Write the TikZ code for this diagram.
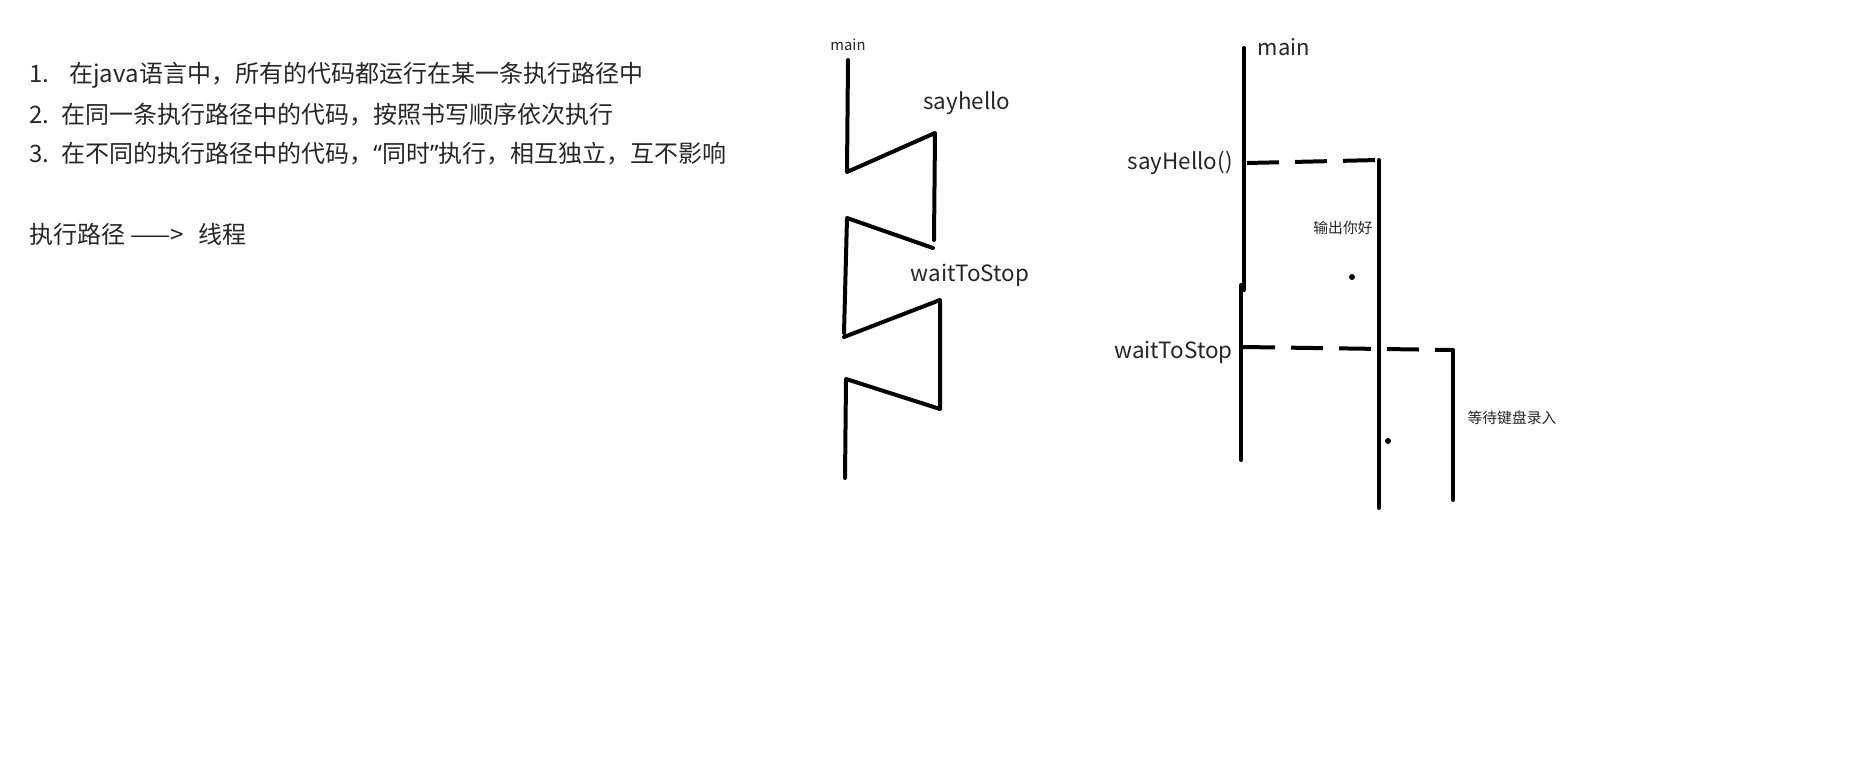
\documentclass[tikz,border=0pt]{standalone}
\usepackage{fontspec}
\setmainfont{Noto Sans CJK SC}
\newfontfamily\quotefont{Noto Sans}
\usetikzlibrary{positioning}

\begin{document}
\begin{tikzpicture}[x=0.5pt,y=-0.5pt,
		thread/.style={line width=2pt,line cap=round,line join=round},
		call/.style={line width=2pt,dash pattern=on 16pt off 8pt},
		note/.style={inner sep=0pt,anchor=west,text=black!85,font=\fontsize{12}{15}\selectfont},
		tag/.style={inner sep=0pt,text=black!85,font=\fontsize{11.2}{13}\selectfont},
		mini/.style={inner sep=0pt,text=black!85,font=\fontsize{7.4}{9}\selectfont}]
	\useasboundingbox (0,0) rectangle (1854,771);
	%
	\node[note] (item1) at (29,75) {1.\hspace{10pt}在java语言中，所有的代码都运行在某一条执行路径中};
	\node[note] (item2) at (29,115) {2.\hspace{6pt}在同一条执行路径中的代码，按照书写顺序依次执行};
	\node[note] (item3) at (29,154) {3.\hspace{6pt}在不同的执行路径中的代码，{\quotefont “}同时{\quotefont ”}执行，相互独立，互不影响};
	\node[note] (thread) at (29,234) {执行路径 ——>\hspace{7pt}线程};
	%
	\node[mini] (mainA) at (848,45) {main};
	\node[tag] (helloA) at (967,103) {sayhello};
	\node[tag] (waitA) at (970,275) {waitToStop};
	\coordinate (a0) at (848,60);
	\coordinate (a1) at (847,172);
	\coordinate (a2) at (935,133);
	\coordinate (a3) at (934,240);
	\coordinate (b0) at (933,248);
	\coordinate (b1) at (847,218);
	\coordinate (b2) at (844,333);
	\coordinate (c0) at (844,337);
	\coordinate (c1) at (940,300);
	\coordinate (c2) at (940,409);
	\coordinate (c3) at (846,379);
	\coordinate (c4) at (845,478);
	\draw[thread] (a0) -- (a1) -- (a2) -- (a3);
	\draw[thread] (b0) -- (b1) -- (b2);
	\draw[thread] (c0) -- (c1) -- (c2) -- (c3) -- (c4);
	%
	\node[tag,font=\fontsize{11}{13}\selectfont] (mainB) at (1284,47) {main};
	\node[tag,anchor=east] (helloB) at (1233,163) {sayHello()};
	\node[tag,anchor=east] (waitB) at (1233,352) {waitToStop};
	\node[mini] (print) at (1343,228) {输出你好};
	\node[mini] (input) at (1512,418) {等待键盘录入};
	\coordinate (m0) at (1244,48);
	\coordinate (m1) at (1244,290);
	\coordinate (m2) at (1241,285);
	\coordinate (m3) at (1241,460);
	\coordinate (h0) at (1247,163);
	\coordinate (h1) at (1379,160);
	\coordinate (h2) at (1379,508);
	\coordinate (w0) at (1243,347);
	\coordinate (w1) at (1453,350);
	\coordinate (w2) at (1453,500);
	\draw[thread] (m0) -- (m1);
	\draw[thread] (m2) -- (m3);
	\draw[call] (h0) -- (h1);
	\draw[thread] (h1) -- (h2);
	\draw[call] (w0) -- (w1);
	\draw[thread] (w1) -- (w2);
	\fill (1352,277) circle (1.5pt);
	\fill (1388,441) circle (1.5pt);
\end{tikzpicture}
\end{document}
